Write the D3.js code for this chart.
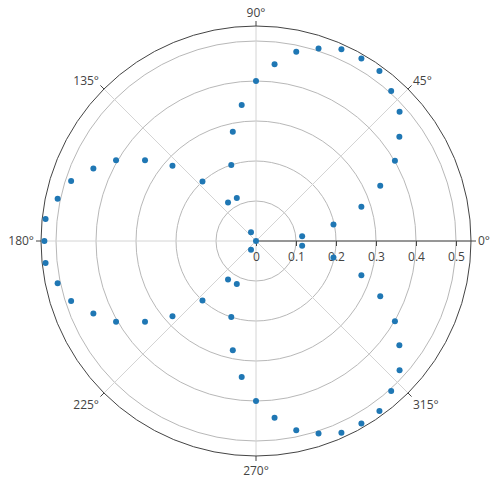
<!DOCTYPE html>
<html>
<head>
<meta charset="utf-8">
<script src="https://cdn.jsdelivr.net/npm/d3@7"></script>
<style>
  html, body { margin: 0; padding: 0; background: #fff; }
  svg { display: block; font-family: "Open Sans", verdana, arial, sans-serif; }
</style>
</head>
<body>
<svg id="chart" width="496" height="481"></svg>
<script>
// ---- data ----
const thetaDeg = [0, 6, 12, 18, 24, 30, 36, 42, 48, 54, 60, 66, 72, 78, 84, 90,
  96, 102, 108, 114, 120, 126, 132, 138, 144, 150, 156, 162, 168, 174, 180,
  186, 192, 198, 204, 210, 216, 222, 228, 234, 240, 246, 252, 258, 264, 270,
  276, 282, 288, 294, 300, 306, 312, 318, 324, 330, 336, 342, 348, 354];
const rValues = [0, 0.116, 0.198, 0.277, 0.340, 0.401, 0.443, 0.483, 0.505, 0.525, 0.527, 0.525, 0.506, 0.484, 0.444, 0.400,
  0.342, 0.279, 0.200, 0.118, 0.025, 0.119, 0.200, 0.281, 0.343, 0.404, 0.445, 0.486, 0.507, 0.529, 0.529,
  0.529, 0.507, 0.486, 0.445, 0.404, 0.343, 0.281, 0.200, 0.119, 0.025, 0.118, 0.200, 0.279, 0.342, 0.400,
  0.444, 0.484, 0.506, 0.525, 0.527, 0.525, 0.505, 0.483, 0.443, 0.401, 0.340, 0.277, 0.198, 0.116];
const radialTicks = [0, 0.1, 0.2, 0.3, 0.4, 0.5];
const radialTickLabels = ["0", "0.1", "0.2", "0.3", "0.4", "0.5"];
const angularTicks = [0, 45, 90, 135, 180, 225, 270, 315];
const angularTickLabels = ["0°", "45°", "90°", "135°", "180°", "225°", "270°", "315°"];
const radialRange = [0, 0.5375];

// ---- layout ----
const cx = 256, cy = 241, R = 215;
const textColor = "#444";
const svg = d3.select("#chart");

const rScale = d3.scaleLinear().domain(radialRange).range([0, R]);
const aScale = d3.scaleLinear().domain([0, 360]).range([0, 2 * Math.PI]);
const px = (r, t) => cx + rScale(r) * Math.cos(aScale(t));
const py = (r, t) => cy - rScale(r) * Math.sin(aScale(t));

const g = svg.append("g");

// radial grid circles
g.selectAll("circle.grid").data(radialTicks.filter(d => d > 0)).enter()
  .append("circle").attr("class", "grid")
  .attr("cx", cx).attr("cy", cy).attr("r", d => rScale(d))
  .attr("fill", "none").attr("stroke", "#b8b8b8").attr("stroke-width", 1);

// angular grid spokes
g.selectAll("line.spoke").data(angularTicks).enter()
  .append("line").attr("class", "spoke")
  .attr("x1", cx).attr("y1", cy)
  .attr("x2", d => px(radialRange[1], d)).attr("y2", d => py(radialRange[1], d))
  .attr("stroke", "#d4d4d4").attr("stroke-width", 1);

// outer frame
g.append("circle").attr("cx", cx).attr("cy", cy).attr("r", R)
  .attr("fill", "none").attr("stroke", textColor).attr("stroke-width", 1);

// angular ticks (outside)
const tickLen = 5;
g.selectAll("line.atick").data(angularTicks).enter()
  .append("line").attr("class", "atick")
  .attr("x1", d => cx + R * Math.cos(aScale(d)))
  .attr("y1", d => cy - R * Math.sin(aScale(d)))
  .attr("x2", d => cx + (R + tickLen) * Math.cos(aScale(d)))
  .attr("y2", d => cy - (R + tickLen) * Math.sin(aScale(d)))
  .attr("stroke", textColor).attr("stroke-width", 1);

// angular tick labels
const fs = 12, pad = 7;
g.selectAll("text.alab").data(angularTicks).enter()
  .append("text").attr("class", "alab")
  .attr("x", d => {
    const a = aScale(d);
    return cx + (R + pad) * Math.cos(a);
  })
  .attr("y", d => {
    const a = aScale(d);
    const s = Math.sin(a), c = Math.cos(a);
    const ff = s > 0 ? 0.2 : 1;
    return cy - R * s - s * (pad + fs * ff) + Math.abs(c) * fs * 0.35;
  })
  .attr("text-anchor", d => {
    const c = Math.cos(aScale(d));
    return Math.abs(c) < 0.1 ? "middle" : (c > 0 ? "start" : "end");
  })
  .attr("font-size", fs).attr("fill", textColor)
  .text((d, i) => angularTickLabels[i]);

// radial axis
const rAxis = d3.axisBottom(rScale)
  .tickValues(radialTicks)
  .tickFormat((d, i) => radialTickLabels[i])
  .tickSize(5).tickSizeOuter(0).tickPadding(6);
const ax = g.append("g").attr("transform", `translate(${cx},${cy})`).call(rAxis);
ax.select(".domain").attr("stroke", textColor).attr("d", `M0,0H${R}`);
ax.selectAll(".tick line").attr("stroke", textColor);
ax.selectAll(".tick text").attr("fill", textColor).attr("font-size", fs)
  .attr("font-family", "\"Open Sans\", verdana, arial, sans-serif");

// markers
g.selectAll("circle.pt").data(thetaDeg.map((t, i) => ({ t, r: rValues[i] }))).enter()
  .append("circle").attr("class", "pt")
  .attr("cx", d => px(d.r, d.t)).attr("cy", d => py(d.r, d.t))
  .attr("r", 3).attr("fill", "#1f77b4");
</script>
</body>
</html>
